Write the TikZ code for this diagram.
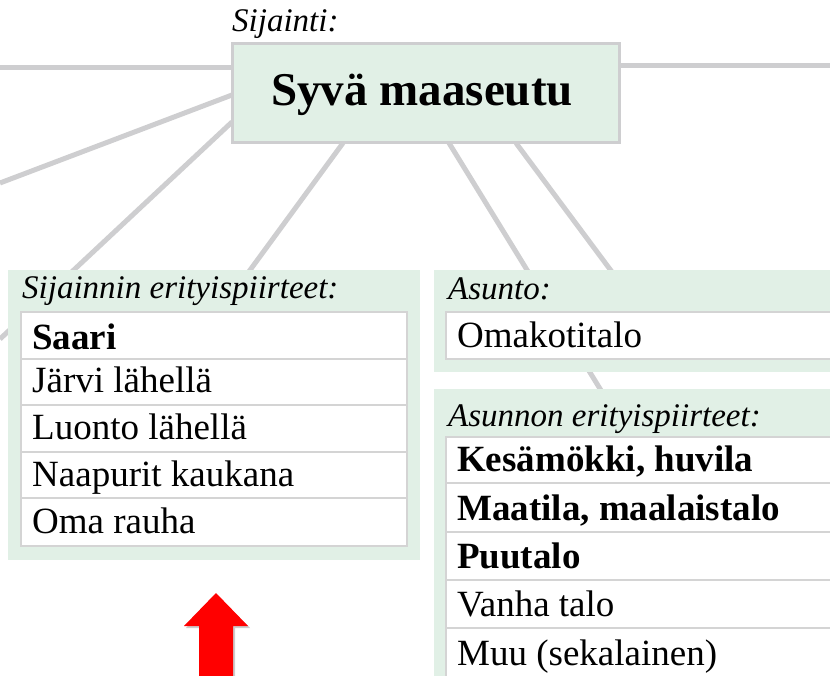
\documentclass[tikz,border=0pt]{standalone}
\usepackage{fontspec}
\setmainfont{Liberation Serif}
\definecolor{panelgreen}{RGB}{225,240,230}
\definecolor{linegray}{RGB}{206,206,208}
\definecolor{cellgray}{RGB}{212,212,212}
\definecolor{arrowred}{RGB}{255,0,0}
\tikzset{
  conn/.style={draw=linegray, line width=5pt},
  panel/.style={fill=panelgreen, draw=none},
  cell/.style={fill=white, draw=cellgray, line width=1.3pt},
  celltext/.style={anchor=base west, inner sep=0pt, font=\fontsize{37}{44}\selectfont},
  celltextb/.style={anchor=base west, inner sep=0pt, font=\fontsize{37}{44}\selectfont\bfseries},
  ptitle/.style={anchor=base west, inner sep=0pt, font=\fontsize{33}{40}\selectfont\itshape},
  mainbox/.style={fill=panelgreen, draw=linegray, line width=3pt, minimum width=387pt, minimum height=99pt, inner sep=0pt},
}
\begin{document}
\begin{tikzpicture}[x=1pt,y=-1pt]
\useasboundingbox (0,0) rectangle (830,676);
\clip (0,0) rectangle (830,676);
% main box node (drawn later on top)
\path (425.5,93.5) node[mainbox, draw=none, fill=none] (main) {};
% connector end points
\coordinate (a1) at (232,68);   \coordinate (b1) at (0,68);
\coordinate (a2) at (619,66);   \coordinate (b2) at (830,66);
\coordinate (a3) at (232,95);   \coordinate (b3) at (0,183);
\coordinate (a4) at (232,122);  \coordinate (b4) at (0,339);
\coordinate (a5) at (343,143);  \coordinate (b5) at (215,318);
\coordinate (a6) at (449,143);  \coordinate (b6) at (602,392);
\coordinate (a7) at (516,143);  \coordinate (b7) at (612,272);
\foreach \i in {1,...,7} { \draw[conn] (a\i) -- (b\i); }
% main box
\node[mainbox] (mainbox) at (425.5,93.5) {};
\node[anchor=base, inner sep=0pt, font=\fontsize{47}{56}\selectfont\bfseries] (maintxt) at (422,106) {Syvä maaseutu};
\node[ptitle] (sijainti) at (232,32) {Sijainti:};
% left panel
\fill[panel] (8,270) rectangle (420,560);
\node[ptitle] (t1) at (22,299) {Sijainnin erityispiirteet:};
\draw[cell] (21,312) rectangle (407,359);
\draw[cell] (21,359) rectangle (407,405);
\draw[cell] (21,405) rectangle (407,452);
\draw[cell] (21,452) rectangle (407,498);
\draw[cell] (21,498) rectangle (407,546);
\node[celltextb] (l1) at (32,349) {Saari};
\node[celltext] (l2) at (32,392) {Järvi lähellä};
\node[celltext] (l3) at (32,439) {Luonto lähellä};
\node[celltext] (l4) at (32,486) {Naapurit kaukana};
\node[celltext] (l5) at (32,533) {Oma rauha};
% right panel: Asunto
\fill[panel] (434,270) rectangle (845,372);
\node[ptitle] (t2) at (448,300) {Asunto:};
\draw[cell] (446,312) rectangle (850,359);
\node[celltext] (r0) at (457,347) {Omakotitalo};
% right panel: Asunnon erityispiirteet
\fill[panel] (434,389) rectangle (845,700);
\node[ptitle] (t3) at (448,426) {Asunnon erityispiirteet:};
\draw[cell] (446,437) rectangle (850,483);
\draw[cell] (446,483) rectangle (850,532);
\draw[cell] (446,532) rectangle (850,580);
\draw[cell] (446,580) rectangle (850,628);
\draw[cell] (446,628) rectangle (850,690);
\node[celltextb] (r1) at (457,471) {Kesämökki, huvila};
\node[celltextb] (r2) at (457,520) {Maatila, maalaistalo};
\node[celltextb] (r3) at (457,568) {Puutalo};
\node[celltext] (r4) at (457,616) {Vanha talo};
\node[celltext] (r5) at (457,665) {Muu (sekalainen)};
% red arrow
\fill[black!20] (217.5,595) -- (250,628) -- (235,628) -- (235,690) -- (201,690) -- (201,628) -- (186,628) -- cycle;
\fill[arrowred] (216,593) -- (248,626) -- (233,626) -- (233,690) -- (199,690) -- (199,626) -- (184,626) -- cycle;
\end{tikzpicture}
\end{document}
